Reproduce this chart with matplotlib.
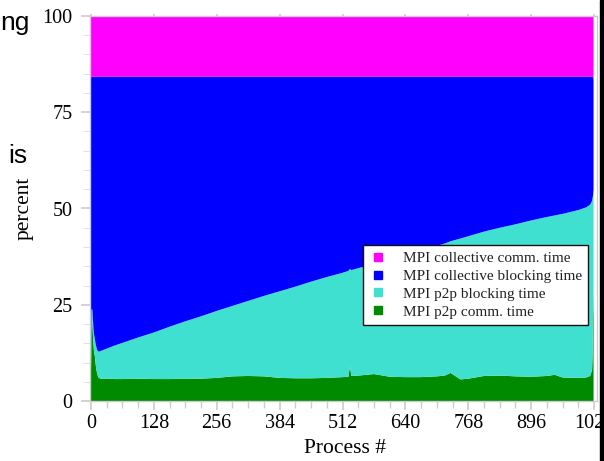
import matplotlib
matplotlib.use("Agg")
import matplotlib.pyplot as plt
from matplotlib.lines import Line2D
from matplotlib.patches import Rectangle

# Process ranks at which the time breakdown is sampled
procs = [0, 1, 2, 3, 4, 5, 6, 8, 10, 12, 14, 16, 20, 24, 32, 48, 64, 96, 128,
         160, 192, 224, 256, 288, 320, 352, 384, 416, 448, 480, 512, 524, 527,
         530, 544, 576, 608, 640, 672, 704, 720, 732, 752, 768, 800, 832, 864,
         896, 928, 944, 960, 992, 1008, 1016, 1020, 1021, 1022, 1023]

# Percent of time per category (stacked bottom to top)
p2p_comm = [8.0, 18.0, 21.0, 20.0, 17.0, 15.0, 13.0, 11.5, 9.0, 7.5, 6.5, 6.0,
            5.8, 5.7, 5.8, 5.7, 5.7, 5.8, 5.7, 5.7, 5.8, 5.8, 6.0, 6.4, 6.5,
            6.4, 6.0, 5.9, 5.9, 6.0, 6.2, 6.3, 9.0, 6.5, 6.6, 7.0, 6.3, 6.2,
            6.2, 6.4, 6.6, 7.3, 5.6, 5.8, 6.5, 6.6, 6.4, 6.3, 6.5, 6.8, 6.1,
            6.0, 6.1, 6.5, 8.0, 12.0, 22.0, 28.5]
p2p_blocking = [4.0, 5.5, 3.0, 3.5, 4.0, 4.0, 4.5, 4.5, 5.5, 6.0, 6.5, 6.8,
                7.2, 7.5, 7.8, 8.7, 9.4, 10.7, 12.1, 13.6, 14.9, 16.2, 17.4,
                18.3, 19.5, 20.9, 22.5, 23.8, 25.1, 26.2, 27.1, 27.5, 25.3,
                27.5, 27.9, 28.6, 30.4, 31.6, 32.8, 33.9, 34.3, 34.2, 36.6,
                37.0, 37.5, 38.4, 39.5, 40.6, 41.3, 41.4, 42.5, 43.6, 44.2,
                44.5, 44.0, 40.8, 31.5, 26.5]
coll_blocking = [72.0, 60.7, 60.2, 60.7, 63.2, 65.2, 66.7, 68.2, 69.7, 70.7,
                 71.2, 71.4, 71.2, 71.0, 70.6, 69.8, 69.1, 67.7, 66.4, 64.9,
                 63.5, 62.2, 60.8, 59.5, 58.2, 56.9, 55.7, 54.5, 53.2, 52.0,
                 50.9, 50.4, 49.9, 50.2, 49.7, 48.6, 47.5, 46.4, 45.2, 43.9,
                 43.3, 42.7, 42.0, 41.4, 40.2, 39.2, 38.3, 37.3, 36.4, 36.0,
                 35.6, 34.6, 33.9, 33.2, 32.2, 31.4, 30.5, 28.6]
coll_comm = [16.0] + [15.8] * 56 + [16.4]

labels = ["MPI p2p comm. time", "MPI p2p blocking time",
          "MPI collective blocking time", "MPI collective comm. time"]
colors = ["#008a00", "#40e0d0", "#0000ff", "#ff00ff"]

serif = "Liberation Serif"
grey = "#cccccc"

fig = plt.figure(figsize=(6.04, 4.61), dpi=100)
ax = fig.add_axes([90 / 604, 60 / 461, 507 / 604, 385 / 461])

ax.stackplot(procs, p2p_comm, p2p_blocking, coll_blocking, coll_comm,
             colors=colors, linewidth=0)

ax.set_xlim(-2, 1030)
ax.set_ylim(0, 100)

ax.set_xticks(range(0, 1025, 128))
ax.set_xticks(range(0, 1025, 32), minor=True)
ax.set_yticks([0, 25, 50, 75, 100])
ax.set_yticks(range(0, 101, 5), minor=True)

for lab in ax.get_xticklabels() + ax.get_yticklabels():
    lab.set_fontfamily(serif)
ax.tick_params(axis="both", which="major", labelsize=14.5, color=grey,
               width=1.2, length=6.5, direction="out")
ax.tick_params(axis="x", which="major", pad=3)
ax.tick_params(axis="y", which="major", pad=6)
ax.tick_params(axis="x", which="minor", color=grey, width=1.0, length=5)
ax.tick_params(axis="y", which="minor", color="#dddddd", width=0.6, length=5)

top = ax.secondary_xaxis("top")
top.set_xticks(range(0, 1025, 128))
top.tick_params(length=1.5, color=grey, width=1.2, labeltop=False)
top.spines["top"].set_visible(False)

for sp in ax.spines.values():
    sp.set_color(grey)
    sp.set_linewidth(1.0)

ax.set_xlabel("Process #", fontfamily=serif, fontsize=15.5)
ax.xaxis.set_label_coords(0.503, -0.098)
ax.set_ylabel("percent", fontfamily=serif, fontsize=15.5)
ax.yaxis.set_label_coords(-0.112, 0.5)

handles = [Line2D([], [], marker="s", linestyle="", color=c, markersize=6)
           for c in colors[::-1]]
leg = ax.legend(handles, labels[::-1], loc="upper right",
                bbox_to_anchor=(0.982, 0.405), fancybox=False, framealpha=1,
                edgecolor="#111111", borderpad=0.4, labelspacing=0.28,
                handlelength=1.2, handletextpad=1.0, borderaxespad=0,
                prop={"family": serif, "size": 11})
leg.get_frame().set_linewidth(1.0)
for t in leg.get_texts():
    t.set_color("#222222")

# Surrounding page fragments
fig.text(0.0, (461 - 30) / 461, "ng", fontfamily="Liberation Sans",
         fontsize=19, va="baseline")
fig.text(8 / 604, (461 - 163) / 461, "is", fontfamily="Liberation Sans",
         fontsize=19, va="baseline")
fig.add_artist(Rectangle((600 / 604, 0), 4 / 604, 1, transform=fig.transFigure,
                         color="black", zorder=10))

fig.savefig("out.png", dpi=100)
